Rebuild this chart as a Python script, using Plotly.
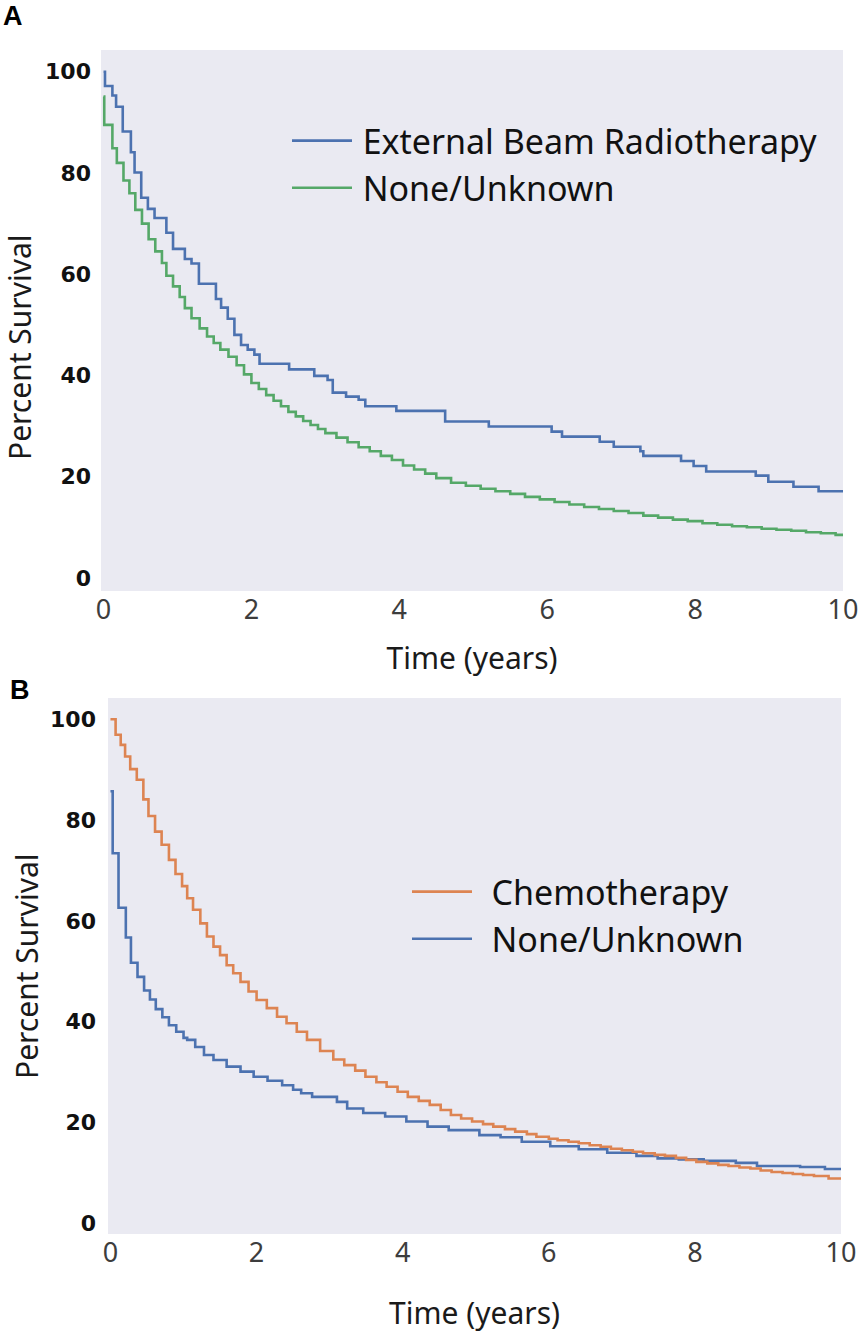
import plotly.graph_objects as go

# Panel A: radiotherapy (Kaplan-Meier steps)
ebrt_t = [0, 0.02, 0.12, 0.17, 0.26, 0.37, 0.42, 0.51, 0.60, 0.69, 0.85, 0.94, 1.10, 1.19, 1.29,
          1.52, 1.59, 1.68, 1.77, 1.86, 1.95, 2.04, 2.11, 2.51, 2.85, 3.03, 3.10, 3.28, 3.45, 3.54,
          3.96, 4.62, 5.21, 6.06, 6.20, 6.71, 6.90, 7.26, 7.30, 7.81, 7.98, 8.15, 8.82, 8.99, 9.33,
          9.67, 10.0]
ebrt_s = [100, 97.2, 95.3, 93.1, 88.2, 84.1, 80.1, 75.1, 72.9, 71.1, 68.2, 65.0, 63.0, 62.1, 58.1,
          55.1, 53.4, 51.2, 48.0, 46.0, 45.1, 44.1, 42.3, 41.2, 39.9, 39.1, 36.6, 35.8, 35.2, 33.9,
          33.0, 30.9, 29.9, 28.9, 27.9, 26.9, 25.9, 25.0, 24.1, 23.1, 22.1, 21.0, 20.2, 19.0, 18.0,
          17.1, 17.1]

none_a_t = [0, 0.01, 0.12, 0.18, 0.27, 0.35, 0.43, 0.52, 0.61, 0.70, 0.79, 0.85, 0.94, 1.03, 1.10,
            1.19, 1.30, 1.40, 1.49, 1.58, 1.69, 1.8, 1.9, 2.0, 2.1, 2.2, 2.3, 2.4, 2.5, 2.6, 2.7,
            2.8, 2.9, 3.0, 3.15, 3.3, 3.45, 3.6, 3.75, 3.9, 4.05, 4.2, 4.35, 4.5, 4.7, 4.9, 5.1,
            5.3, 5.5, 5.7, 5.9, 6.1, 6.3, 6.5, 6.7, 6.9, 7.1, 7.3, 7.5, 7.7, 7.9, 8.1, 8.3, 8.5,
            8.7, 8.9, 9.1, 9.3, 9.5, 9.7, 9.9, 10.0]
none_a_s = [95.1, 89.5, 84.9, 82.0, 78.5, 76.0, 72.7, 70.0, 66.9, 64.5, 62.2, 59.7, 57.6, 55.5, 53.3,
            51.3, 49.3, 47.7, 46.4, 45.1, 43.7, 42.0, 40.2, 38.5, 37.3, 36.1, 35.0, 33.9, 32.8, 31.9,
            31.0, 30.2, 29.4, 28.6, 27.7, 26.8, 25.8, 25.0, 24.1, 23.3, 22.2, 21.4, 20.6, 19.7,
            18.8, 18.2, 17.6, 17.1, 16.6, 16.0, 15.5, 15.0, 14.5, 14.0, 13.6, 13.2, 12.8, 12.3,
            11.9, 11.5, 11.2, 10.8, 10.5, 10.2, 10.0, 9.7, 9.5, 9.3, 9.0, 8.8, 8.5, 8.5]

# Panel B: chemotherapy
chemo_t = [0, 0.07, 0.14, 0.20, 0.27, 0.36, 0.45, 0.52, 0.61, 0.70, 0.80, 0.89, 0.98, 1.05, 1.13,
           1.23, 1.32, 1.41, 1.50, 1.59, 1.68, 1.78, 1.89, 2.00, 2.14, 2.28, 2.41, 2.55, 2.69, 2.87,
           3.05, 3.20, 3.35, 3.49, 3.64, 3.78, 3.93, 4.07, 4.22, 4.37, 4.52, 4.66, 4.80, 4.95, 5.10,
           5.24, 5.40, 5.54, 5.70, 5.83, 6.00, 6.12, 6.27, 6.41, 6.56, 6.71, 6.85, 7.00, 7.15, 7.29,
           7.45, 7.59, 7.74, 7.88, 8.02, 8.17, 8.32, 8.46, 8.61, 8.76, 8.90, 9.05, 9.20, 9.34, 9.48,
           9.63, 9.83, 10.0]
chemo_s = [100, 96.9, 94.9, 92.6, 90.1, 88.0, 84.1, 80.8, 77.7, 75.1, 72.1, 69.3, 66.9, 64.5, 62.2,
           59.5, 56.9, 54.9, 53.2, 51.2, 49.6, 47.9, 46.0, 44.3, 42.7, 41.0, 39.7, 38.0, 36.4, 34.2,
           32.5, 31.4, 30.3, 29.1, 28.0, 27.1, 26.1, 25.1, 24.3, 23.5, 22.5, 21.5, 20.8, 20.2, 19.7,
           19.2, 18.7, 18.2, 17.7, 17.2, 16.8, 16.5, 16.2, 15.9, 15.5, 15.2, 14.8, 14.5, 14.2, 13.9,
           13.6, 13.4, 13.0, 12.6, 12.2, 11.9, 11.6, 11.4, 11.1, 10.9, 10.5, 10.2, 10.0, 9.8, 9.6,
           9.4, 8.9, 8.9]

none_b_t = [0, 0.03, 0.11, 0.21, 0.28, 0.37, 0.46, 0.54, 0.62, 0.71, 0.80, 0.90, 1.0, 1.05, 1.16,
            1.28, 1.41, 1.59, 1.78, 1.96, 2.15, 2.35, 2.50, 2.61, 2.76, 3.10, 3.24, 3.46, 3.76, 4.05,
            4.34, 4.63, 5.05, 5.34, 5.63, 6.02, 6.41, 6.80, 7.20, 7.49, 7.78, 8.12, 8.56, 8.85, 9.44,
            9.78, 10.0]
none_b_s = [85.7, 73.4, 62.6, 56.7, 51.7, 48.9, 46.2, 44.4, 42.5, 40.9, 39.3, 38.0, 36.8, 36.4, 35.0,
            33.4, 32.4, 31.1, 30.1, 29.1, 28.3, 27.4, 26.5, 25.8, 25.1, 24.1, 22.8, 21.9, 21.2, 20.2,
            19.2, 18.5, 17.5, 17.1, 16.2, 15.3, 14.7, 14.0, 13.4, 12.9, 12.7, 12.4, 12.0, 11.4, 11.2,
            10.8, 10.8]

y_ticks = [0, 20, 40, 60, 80, 100]
x_ticks = [0, 2, 4, 6, 8, 10]

BLUE = "#4C72B0"
GREEN = "#55A868"
ORANGE = "#DD8452"
PANEL_BG = "#EAEAF2"
W, H = 861, 1338

fig = go.Figure()

# thin/no-break spaces only widen the gap between legend line and label
fig.add_trace(go.Scatter(x=none_a_t, y=none_a_s, name="\u2009None/Unknown", mode="lines",
                         line=dict(color=GREEN, width=2.6, shape="hv"),
                         xaxis="x", yaxis="y", legend="legend", legendrank=2))
fig.add_trace(go.Scatter(x=ebrt_t, y=ebrt_s, name="\u2009External Beam Radiotherapy", mode="lines",
                         line=dict(color=BLUE, width=2.6, shape="hv"),
                         xaxis="x", yaxis="y", legend="legend", legendrank=1))
fig.add_trace(go.Scatter(x=none_b_t, y=none_b_s, name="\u00a0\u2009None/Unknown", mode="lines",
                         line=dict(color=BLUE, width=2.6, shape="hv"),
                         xaxis="x2", yaxis="y2", legend="legend2", legendrank=2))
fig.add_trace(go.Scatter(x=chemo_t, y=chemo_s, name="\u00a0\u2009Chemotherapy", mode="lines",
                         line=dict(color=ORANGE, width=2.6, shape="hv"),
                         xaxis="x2", yaxis="y2", legend="legend2", legendrank=1))

xtick_font = dict(family="Noto Sans", size=27, color="#3d3d3d")
ytick_font = dict(family="DejaVu Sans", size=22, color="#111111", weight="bold")
title_font = dict(family="Noto Sans", size=30, color="#1a1a1a")


def x_axis(domain, anchor, standoff):
    return dict(domain=domain, anchor=anchor, range=[-0.034, 10.0], tickvals=x_ticks,
                showgrid=False, zeroline=False, showline=False, ticks="",
                tickfont=xtick_font, automargin=False,
                title=dict(text="Time (years)", font=title_font, standoff=standoff))


def y_axis(domain, anchor, rng, standoff):
    return dict(domain=domain, anchor=anchor, range=rng, tickvals=y_ticks,
                showgrid=False, zeroline=False, showline=False, ticks="",
                tickfont=ytick_font, ticklabelstandoff=standoff, automargin=False)


legend_font = dict(family="Noto Sans", size=34, color="#111111")

fig.update_layout(
    width=W,
    height=H,
    paper_bgcolor="white",
    plot_bgcolor=PANEL_BG,
    margin=dict(l=0, r=0, t=0, b=0),
    xaxis=x_axis([101 / W, 843 / W], "y", 21),
    yaxis=y_axis([1 - 591 / H, 1 - 50 / H], "x", [-2.6, 104.3], 9),
    xaxis2=x_axis([108 / W, 841 / W], "y2", 33),
    yaxis2=y_axis([1 - 1234 / H, 1 - 698 / H], "x2", [-2.1, 104.2], 11),
    legend=dict(x=287 / W, y=1 - 112 / H, xanchor="left", yanchor="top",
                bgcolor="rgba(0,0,0,0)", font=legend_font, itemwidth=60),
    legend2=dict(x=407 / W, y=1 - 863 / H, xanchor="left", yanchor="top",
                 bgcolor="rgba(0,0,0,0)", font=legend_font, itemwidth=60),
    showlegend=True,
    annotations=[
        dict(text="Percent Survival", textangle=-90, x=19 / W, y=1 - 347 / H,
             xref="paper", yref="paper", xanchor="center", yanchor="middle", borderpad=0,
             showarrow=False, font=dict(family="Noto Sans", size=30, color="#1a1a1a")),
        dict(text="Percent Survival", textangle=-90, x=26 / W, y=1 - 966 / H,
             xref="paper", yref="paper", xanchor="center", yanchor="middle", borderpad=0,
             showarrow=False, font=dict(family="Noto Sans", size=30, color="#1a1a1a")),
        dict(text="<b>A</b>", x=1 / W, y=1 - 16 / H, xref="paper", yref="paper",
             xanchor="left", yanchor="middle", showarrow=False,
             font=dict(family="Liberation Sans", size=27, color="black")),
        dict(text="<b>B</b>", x=8 / W, y=1 - 690 / H, xref="paper", yref="paper",
             xanchor="left", yanchor="middle", showarrow=False,
             font=dict(family="Liberation Sans", size=27, color="black")),
    ],
)

fig.write_html("out.html", config={"displayModeBar": False},
               post_script="document.body.style.margin='0px';")
